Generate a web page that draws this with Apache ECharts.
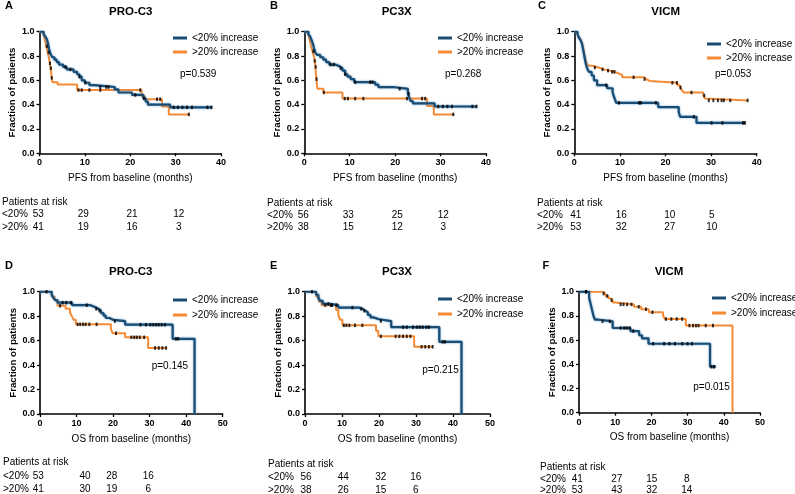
<!DOCTYPE html>
<html><head><meta charset="utf-8">
<script src="https://cdn.jsdelivr.net/npm/echarts@6/dist/echarts.min.js"></script>
<style>html,body{margin:0;padding:0;background:#fff}#c{width:795px;height:494px}</style>
</head><body><div id="c"></div>
<script>
// ---------- DATA ----------
const panelLetters = ['A','B','C','D','E','F'];
const panelTitles = ['PRO-C3','PC3X','VICM','PRO-C3','PC3X','VICM'];
const xAxisTitles = ['PFS from baseline (months)','PFS from baseline (months)','PFS from baseline (months)','OS from baseline (months)','OS from baseline (months)','OS from baseline (months)'];
const yAxisTitle = 'Fraction of patients';
const xMaxes = [40,40,40,50,50,50];
const pValues = ['p=0.539','p=0.268','p=0.053','p=0.145','p=0.215','p=0.015'];
const groupNames = ['<20% increase','>20% increase'];
const riskHeader = 'Patients at risk';
const riskRowLabels = ['<20%','>20%'];

// KM step curves: [time (months), survival from that time on]
const A_lo = [[0,1],[0.9,0.98],[1.3,0.96],[1.6,0.94],[1.9,0.9],[2.1,0.86],[2.4,0.82],[2.8,0.79],[3.3,0.77],[3.8,0.75],[4.3,0.73],[5.2,0.71],[6,0.69],[7.5,0.67],[8.3,0.65],[8.8,0.63],[9.3,0.6],[10,0.58],[11,0.56],[12,0.545],[16.6,0.525],[17.4,0.5],[20.4,0.48],[22.9,0.452],[23.4,0.425],[23.9,0.4],[28.8,0.378],[38,0.378]];
const A_hi = [[0,1],[0.9,0.97],[1.2,0.93],[1.5,0.88],[1.8,0.83],[2.1,0.78],[2.3,0.74],[2.45,0.7],[2.6,0.66],[2.7,0.62],[2.85,0.585],[4,0.565],[8.3,0.52],[22.5,0.47],[23.2,0.445],[27,0.385],[28.5,0.32],[33.1,0.32]];
const B_lo = [[0,1],[0.9,0.98],[1.3,0.96],[1.6,0.93],[1.9,0.9],[2.1,0.87],[2.4,0.83],[2.8,0.81],[3.5,0.79],[4.2,0.77],[4.8,0.75],[5.5,0.73],[6.8,0.715],[7.8,0.7],[8.4,0.68],[9,0.65],[9.5,0.63],[10.2,0.61],[11,0.585],[15.6,0.565],[16.3,0.545],[19.5,0.53],[22.8,0.49],[23.1,0.46],[23.4,0.43],[23.9,0.41],[28.7,0.385],[38,0.385]];
const B_hi = [[0,1],[0.9,0.97],[1.2,0.93],[1.5,0.88],[1.8,0.84],[2.1,0.8],[2.3,0.76],[2.45,0.71],[2.55,0.66],[2.65,0.61],[2.75,0.57],[2.9,0.53],[4.2,0.5],[8.4,0.45],[27,0.39],[28.5,0.32],[33,0.32]];
const C_lo = [[0,1],[0.7,0.98],[1.0,0.95],[1.4,0.93],[1.7,0.9],[1.9,0.86],[2.1,0.82],[2.3,0.78],[2.5,0.74],[2.8,0.7],[3.2,0.67],[3.8,0.64],[4.3,0.6],[5.0,0.56],[7.2,0.535],[8.4,0.5],[8.8,0.455],[9.2,0.415],[18.4,0.38],[22.9,0.34],[23.2,0.3],[26.8,0.25],[37.5,0.25]];
const C_hi = [[0,1],[0.7,0.98],[1.0,0.96],[1.3,0.94],[1.6,0.91],[1.9,0.88],[2.1,0.84],[2.3,0.8],[2.5,0.77],[2.7,0.74],[3.0,0.72],[4.0,0.705],[5.3,0.69],[6.5,0.68],[7.7,0.67],[8.9,0.66],[9.5,0.645],[10.5,0.625],[15.3,0.61],[15.8,0.595],[16.5,0.58],[22.6,0.56],[23.2,0.54],[23.6,0.52],[24.0,0.5],[28.3,0.475],[28.7,0.45],[29.0,0.435],[38,0.435]];
const D_lo = [[0,1],[3.2,0.975],[3.7,0.95],[4.2,0.93],[4.8,0.91],[8.8,0.89],[13.8,0.875],[15.0,0.86],[16.0,0.845],[16.7,0.825],[17.4,0.805],[18.0,0.785],[19.0,0.77],[20.0,0.76],[23.3,0.73],[36.3,0.615],[42.3,0]];
const D_hi = [[0,1],[3.2,0.96],[4.0,0.93],[4.8,0.885],[7.0,0.86],[8.2,0.83],[8.7,0.8],[9.2,0.77],[9.8,0.733],[19.4,0.695],[19.9,0.66],[23.3,0.627],[29.6,0.54],[34.7,0.54]];
const E_lo = [[0,1],[3.0,0.975],[3.6,0.95],[4.1,0.925],[4.8,0.9],[6.5,0.89],[9.0,0.87],[14.6,0.86],[15.5,0.845],[16.3,0.83],[17.0,0.81],[17.7,0.79],[18.5,0.775],[20.0,0.76],[23.3,0.71],[36.3,0.59],[42.3,0]];
const E_hi = [[0,1],[3.0,0.96],[3.7,0.92],[4.5,0.89],[8.4,0.85],[9.0,0.81],[9.5,0.77],[10.1,0.725],[19.2,0.68],[19.8,0.635],[29.5,0.55],[34.6,0.55]];
const F_lo = [[0,1],[2.8,0.95],[3.2,0.9],[3.6,0.85],[4.0,0.8],[4.4,0.77],[5.0,0.755],[9.3,0.7],[14.2,0.675],[16.6,0.64],[17.4,0.615],[19.2,0.57],[36.2,0.38],[37.8,0.38]];
const F_hi = [[0,1],[6.5,0.985],[7.3,0.965],[8.1,0.945],[8.7,0.93],[9.3,0.91],[10.0,0.895],[15.2,0.875],[17.2,0.855],[19.3,0.83],[23.2,0.805],[23.7,0.774],[29.5,0.72],[42.4,0]];

// censoring times (months)
const A_lo_cens = [5.7,6.8,8.8,10.1,13.4,14.7,15.2,21.1,23,29.6,30.5,31.5,32.5,33.6,37,37.9];
const A_hi_cens = [1.6,2.0,2.3,2.5,2.7,8.6,9.3,11,13.4,22.2,25.9,26.6,32.9];
const B_lo_cens = [5.8,6.5,8.0,9.0,11.2,14.5,15,21,23,29.5,30.5,31.5,32.5,37,37.9];
const B_hi_cens = [2.0,2.3,2.5,2.7,4.3,8.9,9.6,11.2,13,22.6,25.9,26.6,32.8];
const C_lo_cens = [7.0,9.8,14.2,14.6,17.9,26.2,30.1,32.5,37,37.4];
const C_hi_cens = [4.5,6.2,7.4,8.3,8.8,13.0,15.4,21.5,22.5,23.3,25.7,28.5,29.5,30.5,31.5,32.3,32.8,34.2,38];
const D_lo_cens = [1.8,6.2,7.2,8.5,12.8,15.4,16.3,20.5,27.5,29,30.2,31,31.8,32.5,33.3,34.2,37.2,37.8];
const D_hi_cens = [5.5,10.3,11.0,11.8,12.5,13.5,15.5,20.8,25.0,25.8,26.5,27.3,28.5,31.5,32.5,33.5,34.5];
const E_lo_cens = [1.9,6.3,7.3,8.5,12.8,15.2,16.0,20.5,26.5,27.5,29.2,30.2,31.0,31.8,32.8,33.5,37.2,37.8];
const E_hi_cens = [5.5,7.0,10.5,11.2,12.0,13.5,15.5,20.5,24.5,25.5,26.5,27.5,28.5,31.5,32.5,33.5,34.5];
const F_lo_cens = [1.9,6.5,8.5,11.5,12.5,13.2,14.0,15.0,20.5,23.5,25.0,26.5,28.5,30.0,31.2,36.6,37.3];
const F_hi_cens = [2.0,6.8,7.8,9.0,11.5,12.3,13.3,14.5,16.5,18.5,20.3,24.0,25.5,27.0,28.5,30.5,31.5,32.3,33.0,35.0,37.0];

// numbers at risk
const A_risk_lo = [53,29,21,12], A_risk_hi = [41,19,16,3];
const B_risk_lo = [56,33,25,12], B_risk_hi = [38,15,12,3];
const C_risk_lo = [41,16,10,5],  C_risk_hi = [53,32,27,10];
const D_risk_lo = [53,40,28,16], D_risk_hi = [41,30,19,6];
const E_risk_lo = [56,44,32,16], E_risk_hi = [38,26,15,6];
const F_risk_lo = [41,27,15,8],  F_risk_hi = [53,43,32,14];

const curves = [[A_lo,A_hi],[B_lo,B_hi],[C_lo,C_hi],[D_lo,D_hi],[E_lo,E_hi],[F_lo,F_hi]];
const censors = [[A_lo_cens,A_hi_cens],[B_lo_cens,B_hi_cens],[C_lo_cens,C_hi_cens],[D_lo_cens,D_hi_cens],[E_lo_cens,E_hi_cens],[F_lo_cens,F_hi_cens]];
const risks = [[A_risk_lo,A_risk_hi],[B_risk_lo,B_risk_hi],[C_risk_lo,C_risk_hi],[D_risk_lo,D_risk_hi],[E_risk_lo,E_risk_hi],[F_risk_lo,F_risk_hi]];

// ---------- LAYOUT ----------
const FONT = '"Liberation Sans", Arial, Helvetica, sans-serif';
const BLUE = '#1b4d73', ORANGE = '#f58a35';
const L = [
  {g:[39.5,31.7,181.5,121.6], letter:[5,6], title:[130.7,12.3], leg:[168,28,4], p:[180,74], riskX:2, riskY:[202,214.5,227], cols:[38.3,83.3,132,178.7]},
  {g:[304.3,31.7,181.7,121.6], letter:[270,6], title:[396.7,12.3], leg:[433,28,4], p:[445,74], riskX:267, riskY:[203.3,215,227.3], cols:[303.3,348.3,397.3,443.3]},
  {g:[574.3,31.7,182.4,121.6], letter:[538,5.5], title:[665.7,12.3], leg:[702,34,4], p:[715,74.3], riskX:537, riskY:[203.3,215,227.3], cols:[575.7,621.3,669.7,711.7]},
  {g:[40,291.7,182.7,122.3], letter:[5,265.5], title:[130.7,272.3], leg:[168,290,5], p:[151.7,366.7], riskX:3, riskY:[462.3,476,489.3], cols:[38.3,85,111.7,148.3]},
  {g:[305,291.7,185,122.3], letter:[270,266], title:[397,272.3], leg:[433,289,5], p:[422.3,370.7], riskX:268, riskY:[464.3,477.3,490], cols:[306,343.3,380.7,415.7]},
  {g:[579,291.7,181,121], letter:[542.5,266], title:[669,272.3], leg:[707,288,5], p:[693.3,387.7], riskX:540, riskY:[467.3,479.3,490.7], cols:[577.3,616.7,651.7,686.7]}
];

function survAt(curve, t){
  let s = curve[0][1];
  for (const [ti, si] of curve){ if (ti <= t) s = si; else break; }
  return s;
}

const grid=[], xAxis=[], yAxis=[], series=[], legend=[], graphic=[];
L.forEach((p, i) => {
  grid.push({left:p.g[0], top:p.g[1], width:p.g[2], height:p.g[3], containLabel:false});
  xAxis.push({type:'value', gridIndex:i, min:0, max:xMaxes[i], interval:10,
    name:xAxisTitles[i], nameLocation:'middle', nameGap:20,
    nameTextStyle:{fontFamily:FONT, fontSize:10, color:'#000'},
    axisLine:{lineStyle:{color:'#000', width:1.6}},
    axisTick:{show:true, length:3, lineStyle:{color:'#000', width:1.3}},
    axisLabel:{fontFamily:FONT, fontSize:9, fontWeight:'bold', color:'#000', margin:5},
    splitLine:{show:false}});
  yAxis.push({type:'value', gridIndex:i, min:0, max:1, interval:0.2,
    name:yAxisTitle, nameLocation:'middle', nameGap:22,
    nameTextStyle:{fontFamily:FONT, fontSize:9.7, fontWeight:'bold', color:'#000'},
    axisLine:{show:true, lineStyle:{color:'#000', width:1.6}},
    axisTick:{show:true, length:3, lineStyle:{color:'#000', width:1.3}},
    axisLabel:{fontFamily:FONT, fontSize:9, fontWeight:'bold', color:'#000', margin:5, formatter:v=>v.toFixed(1)},
    splitLine:{show:false}});
  [0,1].forEach(k => {
    const col = k===0 ? BLUE : ORANGE;
    series.push({type:'line', name:groupNames[k], xAxisIndex:i, yAxisIndex:i, step:'end',
      data:curves[i][k], symbol:'none', color:col, z: k===0?3:2,
      lineStyle:k===0 ? {color:col, width:2.2, shadowColor:'rgba(70,140,200,0.9)', shadowBlur:2}
                      : {color:col, width:2},
      animation:false});
    series.push({type:'scatter', name:groupNames[k]+' censored', xAxisIndex:i, yAxisIndex:i,
      data:censors[i][k].map(t => [t, survAt(curves[i][k], t)]),
      symbol:'rect', symbolSize:[2,3.5], itemStyle:{color:'#000'}, z:5, animation:false, silent:true});
  });
  legend.push({left:p.leg[0], top:p.leg[1], orient:'vertical', itemGap:p.leg[2],
    itemWidth:14, itemHeight:3, icon:'rect',
    data:groupNames.map((n,k)=>({name:n, itemStyle:{color:k===0?BLUE:ORANGE}})),
    textStyle:{fontFamily:FONT, fontSize:10, color:'#000'},
    selectedMode:false});
  graphic.push({type:'text', x:p.letter[0], y:p.letter[1], style:{text:panelLetters[i], font:'bold 11px '+FONT, fill:'#000', verticalAlign:'middle'}});
  graphic.push({type:'text', x:p.title[0], y:p.title[1], style:{text:panelTitles[i], font:'bold 11.5px '+FONT, fill:'#000', align:'center', verticalAlign:'middle'}});
  graphic.push({type:'text', x:p.p[0], y:p.p[1], style:{text:pValues[i], font:'10px '+FONT, fill:'#000', verticalAlign:'middle'}});
  graphic.push({type:'text', x:p.riskX, y:p.riskY[0], style:{text:riskHeader, font:'10px '+FONT, fill:'#000', verticalAlign:'middle'}});
  [0,1].forEach(k => {
    graphic.push({type:'text', x:p.riskX, y:p.riskY[k+1], style:{text:riskRowLabels[k], font:'10px '+FONT, fill:'#000', verticalAlign:'middle'}});
    risks[i][k].forEach((v, j) => {
      graphic.push({type:'text', x:p.cols[j], y:p.riskY[k+1], style:{text:String(v), font:'10px '+FONT, fill:'#000', align:'center', verticalAlign:'middle'}});
    });
  });
});

const chart = echarts.init(document.getElementById('c'), null, {renderer:'canvas'});
chart.setOption({animation:false, backgroundColor:'#fff', grid, xAxis, yAxis, series, legend, graphic});
</script></body></html>
